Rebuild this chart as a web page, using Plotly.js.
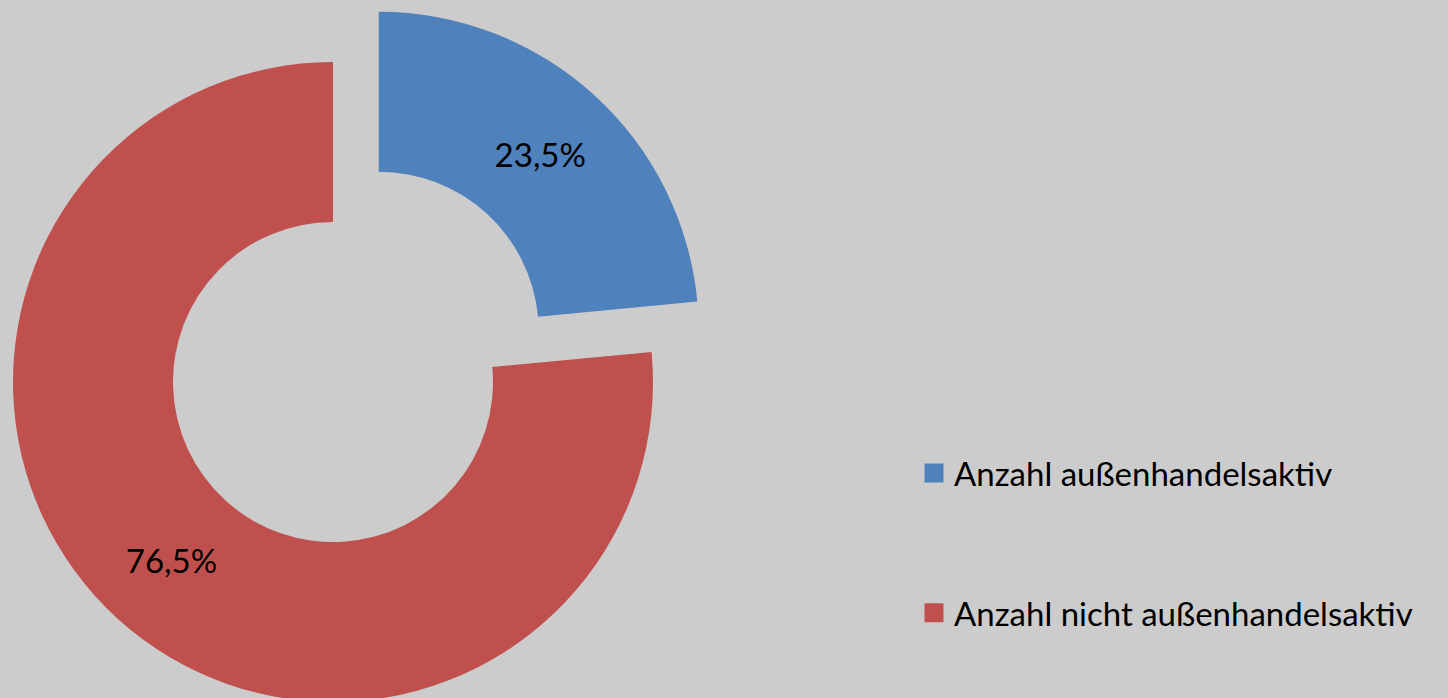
<!DOCTYPE html>
<html>
<head>
<meta charset="utf-8">
<script src="https://cdn.plot.ly/plotly-3.0.1.min.js"></script>
<style>
  html, body { margin: 0; padding: 0; overflow: hidden; background: #cccccc; width: 1448px; height: 698px; }
  #chart { position: absolute; left: -100px; top: -100px; width: 1548px; height: 898px; }
</style>
</head>
<body>
<div id="chart"></div>
<script>
// Data
const categories = ['Anzahl außenhandelsaktiv', 'Anzahl nicht außenhandelsaktiv'];
const shares = [23.5, 76.5];
const colors = ['#4F81BD', '#C0504D'];
const pulls = [0.2125, 0];

// Layout geometry (pixels in window coords)
const OFF_L = 100, OFF_T = 100, W = 1548, H = 898;
const cx = 333 + OFF_L, cy = 382 + OFF_T, r = 320;
const maxPull = Math.max(...pulls);
const half = r * (1 + maxPull);
const domX = [(cx - half) / W, (cx + half) / W];
const domY = [(H - (cy + half)) / H, (H - (cy - half)) / H];

const font = 'Lato, "Open Sans", sans-serif';

const pie = {
  type: 'pie',
  labels: categories,
  values: shares,
  sort: false,
  direction: 'clockwise',
  rotation: 0,
  hole: 0.5,
  pull: pulls,
  marker: { colors: colors, line: { width: 0 } },
  textinfo: 'percent',
  texttemplate: '%{percent:.1%}',
  textposition: 'inside',
  insidetextorientation: 'horizontal',
  textfont: { family: font, size: 33, color: '#000000' },
  domain: { x: domX, y: domY },
  showlegend: false,
  hoverinfo: 'label+percent'
};

// legend entries built from the same categories/colors
const legendTraces = categories.map((c, i) => ({
  type: 'scatter',
  mode: 'markers',
  x: [null], y: [null],
  name: c,
  legendgroup: 'g' + i,
  marker: { symbol: 'square', size: 16, color: colors[i], line: { color: colors[i], width: 3 } },
  hoverinfo: 'skip'
}));

const layout = {
  width: W, height: H,
  margin: { l: 0, r: 0, t: 0, b: 0 },
  paper_bgcolor: '#cccccc',
  plot_bgcolor: '#cccccc',
  separators: ',.',
  font: { family: font, color: '#000000' },
  xaxis: { visible: false, showgrid: false, zeroline: false },
  yaxis: { visible: false, showgrid: false, zeroline: false },
  showlegend: true,
  legend: {
    x: (914 + OFF_L) / W,
    xanchor: 'left',
    y: (H - (445 + OFF_T)) / H,
    yanchor: 'top',
    bgcolor: 'rgba(0,0,0,0)',
    font: { family: font, size: 33, color: '#000000' },
    tracegroupgap: 94,
    traceorder: 'grouped'
  }
};

Plotly.newPlot('chart', [pie, ...legendTraces], layout, { displayModeBar: false, staticPlot: true });
</script>
</body>
</html>
